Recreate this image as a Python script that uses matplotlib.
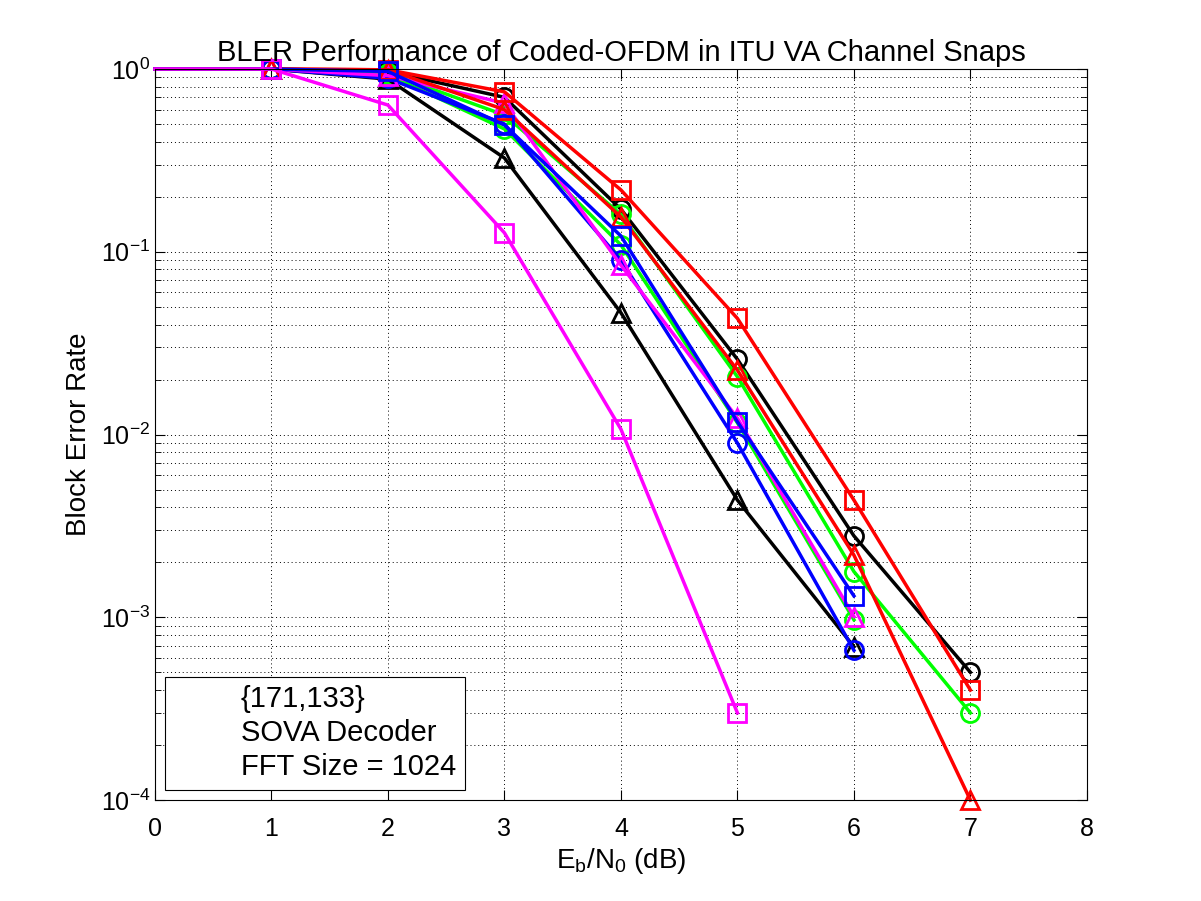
import matplotlib.pyplot as plt
from matplotlib.lines import Line2D
import numpy as np

plt.rcParams['font.family'] = ['Liberation Sans', 'DejaVu Sans']

ebn0 = [0, 1, 2, 3, 4, 5, 6, 7]

# BLER per curve (first point at 0 dB only carries the line to the 1 dB point)
bler_k_o = [1, 1, 0.97, 0.70, 0.171, 0.0258, 0.00279, 0.00050]
bler_g_o = [1, 1, 0.95, 0.56, 0.160, 0.0207, 0.00178, 0.00030]
bler_r_tri = [1, 1, 0.99, 0.60, 0.155, 0.0225, 0.00219, 0.00010]
bler_r_sq = [1, 1, 0.99, 0.75, 0.218, 0.0432, 0.00438, 0.00040]
bler_g_o2 = [1, 1, 0.93, 0.47, 0.109, 0.0116, 0.00097]
bler_k_tri = [1, 1, 0.88, 0.326, 0.0464, 0.00438, 0.00069]
bler_b_o = [1, 1, 0.89, 0.50, 0.090, 0.00898, 0.00066]
bler_m_tri = [1, 1, 0.92, 0.65, 0.0845, 0.0123, 0.00101]
bler_b_sq = [1, 1, 0.97, 0.494, 0.122, 0.01175, 0.00131]
bler_m_sq = [1, 1, 0.635, 0.127, 0.0107, 0.00030]

curves = [
    (bler_k_o, 'k', 'o'),
    (bler_g_o, '#00ff00', 'o'),
    (bler_g_o2, '#00ff00', 'o'),
    (bler_k_tri, 'k', '^'),
    (bler_b_o, 'b', 'o'),
    (bler_m_tri, '#ff00ff', '^'),
    (bler_r_tri, 'r', '^'),
    (bler_r_sq, 'r', 's'),
    (bler_b_sq, 'b', 's'),
    (bler_m_sq, '#ff00ff', 's'),
]

legend_text = ['{171,133}', 'SOVA Decoder', 'FFT Size = 1024']

fig = plt.figure(figsize=(12.01, 9.01), dpi=100)
ax = fig.add_axes([0.129, 0.112, 0.776, 0.8114])

for vals, col, mk in curves:
    ax.semilogy(ebn0[:len(vals)], vals, color=col, marker=mk, linewidth=2.5,
                markersize=13, markeredgewidth=2, markerfacecolor='none',
                markevery=slice(1, None), clip_on=False)

ax.set_xlim(0, 8)
ax.set_ylim(1e-4, 1)
ax.set_xticks(range(0, 9))
ax.grid(True, which='major', color='k', linestyle=(0, (1, 3)), linewidth=0.7)
ax.grid(True, which='minor', axis='y', color='k', linestyle=(0, (1, 3)), linewidth=0.7)
ax.tick_params(which='both', direction='in', top=True, right=True, labelsize=18)
ax.tick_params(axis='x', pad=12)
ax.tick_params(which='major', length=7)
ax.tick_params(which='minor', length=4)

ax.set_xlabel(r'E$_\mathregular{b}$/N$_\mathregular{0}$ (dB)', fontsize=20, labelpad=4)
ax.set_ylabel('Block Error Rate', fontsize=20, labelpad=6)
ax.set_title('BLER Performance of Coded-OFDM in ITU VA Channel Snaps', fontsize=21, pad=6)

handles = [Line2D([], [], linestyle='none') for _ in legend_text]
leg = ax.legend(handles, legend_text, loc='lower left', fontsize=21,
                handlelength=1.8, handletextpad=0.5, labelspacing=0.2,
                borderaxespad=0.35, fancybox=False, framealpha=1,
                borderpad=0.3)
leg.get_frame().set_edgecolor('k')
leg.get_frame().set_linewidth(0.8)

fig.savefig('out.png', dpi=100)
